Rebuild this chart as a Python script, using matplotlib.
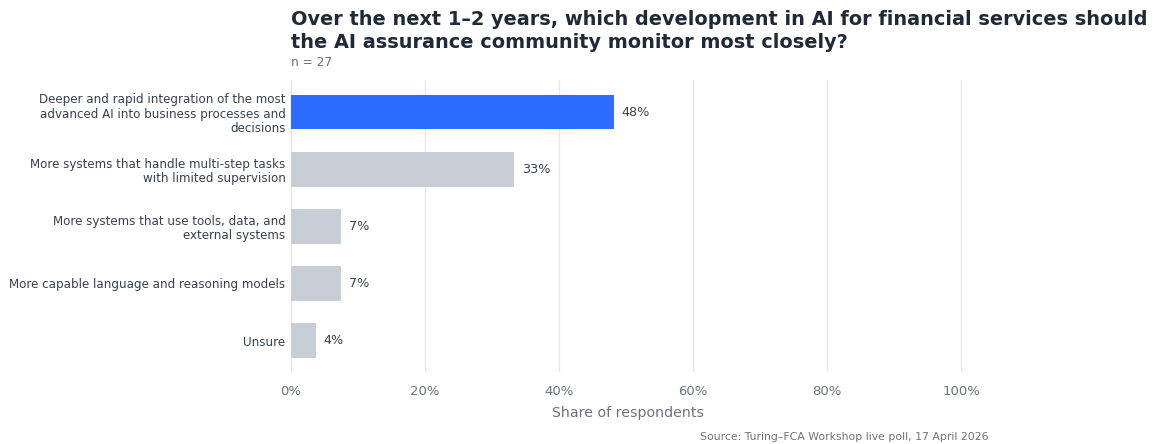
import matplotlib
matplotlib.use("Agg")
import matplotlib.pyplot as plt

# Poll responses (n = 27)
categories = [
    "Deeper and rapid integration of the most\nadvanced AI into business processes and\ndecisions",
    "More systems that handle multi-step tasks\nwith limited supervision",
    "More systems that use tools, data, and\nexternal systems",
    "More capable language and reasoning models",
    "Unsure",
]
counts = [13, 9, 2, 2, 1]
n_total = 27
shares = [100 * c / n_total for c in counts]
value_labels = ["48%", "33%", "7%", "7%", "4%"]
x_ticks = [0, 20, 40, 60, 80, 100]
x_tick_labels = ["0%", "20%", "40%", "60%", "80%", "100%"]

HIGHLIGHT = "#2F6BFF"
MUTED = "#C8CDD6"
TITLE_C = "#1F2937"
LABEL_C = "#374151"
GRAY_C = "#6B7280"
GRID_C = "#E5E7EB"

plt.rcParams["font.family"] = ["DejaVu Sans"]

W, H = 1153, 444
fig = plt.figure(figsize=(W / 100, H / 100), dpi=100)
x_max = 100.6
px_per_unit = (961 - 291) / 100
ax = fig.add_axes([291 / W, 1 - 372 / H, x_max * px_per_unit / W, (372 - 80) / H])

colors = [HIGHLIGHT] + [MUTED] * (len(categories) - 1)
ypos = list(range(len(categories)))
ax.barh(ypos, shares, height=0.61, color=colors, zorder=3)

for y, v, lab in zip(ypos, shares, value_labels):
    ax.text(v + 1.2, y, lab, va="center", ha="left", fontsize=9.2, color=LABEL_C)

ax.set_xlim(0, x_max)
ax.set_ylim(len(categories) - 0.45, -0.56)
ax.set_yticks(ypos)
ax.set_yticklabels(categories, fontsize=8.6, color=LABEL_C, linespacing=1.12)
ax.set_xticks(x_ticks)
ax.set_xticklabels(x_tick_labels, fontsize=9.5, color=GRAY_C)
ax.tick_params(axis="both", length=0)
ax.tick_params(axis="x", pad=9)
ax.tick_params(axis="y", pad=4)
ax.grid(axis="x", color=GRID_C, linewidth=1, zorder=0)
ax.grid(axis="y", visible=False)
for s in ax.spines.values():
    s.set_visible(False)

ax.set_xlabel("Share of respondents", fontsize=10.2, color=GRAY_C, labelpad=6)

fig.text(291 / W, 1 - 10 / H,
         "Over the next 1\u20132 years, which development in AI for financial services should\n"
         "the AI assurance community monitor most closely?",
         ha="left", va="top", fontsize=13.9, fontweight="bold", color=TITLE_C,
         linespacing=1.3)
fig.text(291 / W, 1 - 63 / H, "n = 27", ha="left", va="center", fontsize=8.8, color=GRAY_C)
fig.text(988 / W, 1 - 437 / H, "Source: Turing\u2013FCA Workshop live poll, 17 April 2026",
         ha="right", va="center", fontsize=7.8, color=GRAY_C)

fig.savefig("out.png", dpi=100, facecolor="white")
